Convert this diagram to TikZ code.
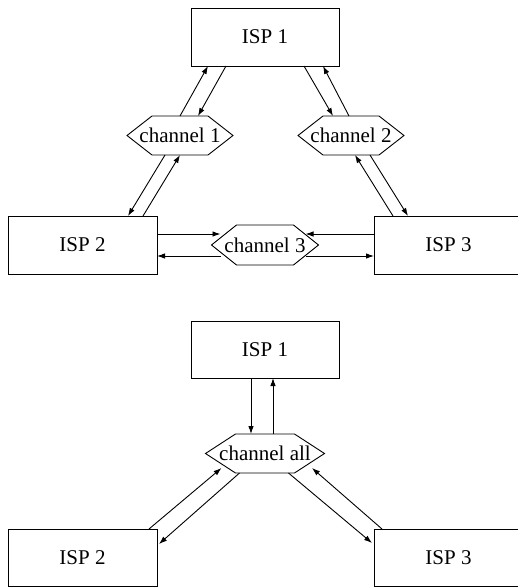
\documentclass[tikz,border=0pt]{standalone}
\usepackage{fontspec}
\setmainfont{Liberation Serif}
\usetikzlibrary{arrows.meta,calc}
\tikzset{
  isp/.style={draw, line width=0.9pt, minimum width=148pt, minimum height=58pt, inner sep=0pt, outer sep=0pt, font=\fontsize{21}{23}\selectfont},
  chan/.style={inner sep=0pt, outer sep=0pt, minimum width=106pt, minimum height=39pt, font=\fontsize{21}{23}\selectfont},
  arr/.style={line width=0.9pt, -{Latex[length=8pt,width=5.5pt]}},
  hexline/.style={line width=0.9pt}
}
\newcommand\hexdraw[2]{\draw[hexline] (#1.west) -- ($(#1.north west)+(#2,0)$) -- ($(#1.north east)+(-#2,0)$) -- (#1.east) -- ($(#1.south east)+(-#2,0)$) -- ($(#1.south west)+(#2,0)$) -- cycle;}
\begin{document}
\begin{tikzpicture}[x=1pt,y=-1pt]
\useasboundingbox (0,0) rectangle (518,587);
\clip (0,0) rectangle (518,587);
\fill[white] (0,0) rectangle (518,587);
% top diagram
\node[isp] (i1) at (265,37) {ISP 1};
\node[isp, minimum width=149pt] (i2) at (82.5,245) {ISP 2};
\node[isp, minimum width=149pt] (i3) at (448.5,245) {ISP 3};
\node[chan] (c1) at (180,135.5) {channel 1};
\node[chan] (c2) at (351,135.5) {channel 2};
\node[chan, minimum width=107pt, minimum height=40pt] (c3) at (265,245) {channel 3};
\hexdraw{c1}{25}
\hexdraw{c2}{25}
\hexdraw{c3}{25}
\draw[arr] ($(c1.north west)+(53,0)$) -- ($(i1.south west)+(17,0)$);
\draw[arr] ($(i1.south west)+(35,0)$) -- ($(c1.north west)+(71,0)$);
\draw[arr] ($(i1.south west)+(113,0)$) -- ($(c2.north west)+(35,0)$);
\draw[arr] ($(c2.north west)+(51,0)$) -- ($(i1.south west)+(132,0)$);
\draw[arr] ($(c1.south west)+(38,0)$) -- ($(i2.north west)+(120,0)$);
\draw[arr] ($(i2.north west)+(135,0)$) -- ($(c1.south west)+(53,0)$);
\draw[arr] ($(i3.north west)+(19,0)$) -- ($(c2.south west)+(57,0)$);
\draw[arr] ($(c2.south west)+(72,0)$) -- ($(i3.north west)+(34,0)$);
\draw[arr] ($(i2.east)+(0,-11)$) -- ($(c3.west)+(9,-11)$);
\draw[arr] ($(c3.west)+(9,11)$) -- ($(i2.east)+(0,11)$);
\draw[arr] ($(i3.west)+(0,-11)$) -- ($(c3.east)+(-13,-11)$);
\draw[arr] ($(c3.east)+(-13,11)$) -- ($(i3.west)+(0,11)$);
% bottom diagram
\node[isp, minimum height=57pt] (b1) at (265,349.5) {ISP 1};
\node[isp, minimum width=149pt, minimum height=57pt] (b2) at (82.5,557.5) {ISP 2};
\node[isp, minimum width=149pt, minimum height=57pt] (b3) at (448.5,557.5) {ISP 3};
\node[chan, minimum width=119pt] (bc) at (265,453.5) {channel all};
\hexdraw{bc}{30}
\draw[arr] ($(b1.south)+(-14,0)$) -- ($(bc.north)+(-14,0)$);
\draw[arr] ($(bc.north)+(8,0)$) -- ($(b1.south)+(8,0)$);
\draw[arr] ($(b2.north east)+(-8,0)$) -- ($(bc.west)+(16,14.5)$);
\draw[arr] ($(bc.south west)+(34,0)$) -- ($(b2.east)+(2,-13.5)$);
\draw[arr] ($(bc.south west)+(83,0)$) -- ($(b3.west)+(-2,-14.5)$);
\draw[arr] ($(b3.north west)+(8,0)$) -- ($(bc.east)+(-12.5,14.5)$);
\end{tikzpicture}
\end{document}
